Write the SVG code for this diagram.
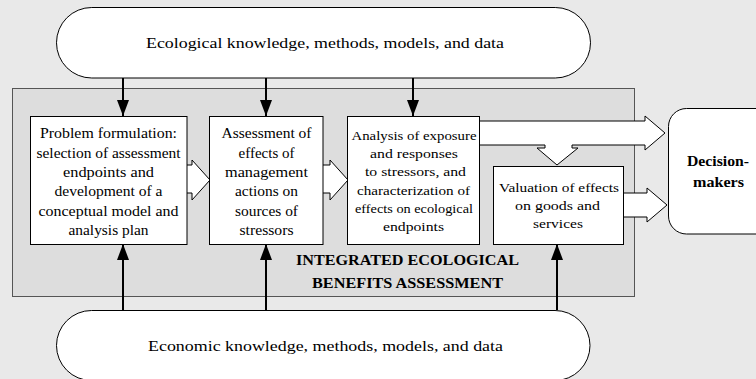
<svg xmlns="http://www.w3.org/2000/svg" width="756" height="379" viewBox="0 0 756 379">
<style>
.t{font-family:"Liberation Serif","Times New Roman",serif;fill:#000;text-anchor:middle}
.p{font-size:15px}
.b1{font-size:14.5px}
.b3{font-size:13.5px}
.bd{font-size:14.5px;font-weight:bold}
.dm{font-size:15.5px;font-weight:bold}
.box{fill:#fff;stroke:#000;stroke-width:1}
.blk{fill:#fff;stroke:#000;stroke-width:1;stroke-linejoin:miter}
.ln{stroke:#000;stroke-width:2;fill:none}
</style>
<defs>
<marker id="ah" markerUnits="userSpaceOnUse" markerWidth="16" markerHeight="12" refX="16" refY="6" orient="auto" viewBox="0 0 16 12">
<path d="M0,0 L16,6 L0,12 Z" fill="#000"/>
</marker>
</defs>
<rect x="0" y="0" width="756" height="379" fill="#e9e9e9"/>

<g id="assessment-frame">
<rect x="12.5" y="88.5" width="622" height="208" fill="#dddddd" stroke="#555" stroke-width="1"/>
<text class="t bd" x="407.5" y="265" textLength="223" lengthAdjust="spacingAndGlyphs">INTEGRATED ECOLOGICAL</text>
<text class="t bd" x="407.5" y="288" textLength="191" lengthAdjust="spacingAndGlyphs">BENEFITS ASSESSMENT</text>
</g>

<g id="ecological-knowledge">
<rect x="56.5" y="7.5" width="534" height="70.5" rx="35.25" ry="35.25" class="box"/>
<text class="t p" x="325" y="48" textLength="358" lengthAdjust="spacingAndGlyphs">Ecological knowledge, methods, models, and data</text>
</g>

<g id="economic-knowledge">
<rect x="56.5" y="310.5" width="533.5" height="70" rx="35" ry="35" class="box"/>
<text class="t p" x="325.5" y="351" textLength="355" lengthAdjust="spacingAndGlyphs">Economic knowledge, methods, models, and data</text>
</g>

<g id="connectors">
<path class="blk" d="M187,165 H192 V160 L210,180 L192,200 V193 H187"/>
<path class="blk" d="M323,165 H330 V160 L348,180 L330,200 V193 H323"/>
<path class="blk" d="M480,121 H645 V116 L665,133 L645,150 V145 H572 V148 H578 L557,165 L537,148 H545 V145 H480"/>
<path class="blk" d="M623,193 H647 V188 L667,205 L647,222 V217 H623"/>
<line class="ln" x1="123" y1="78" x2="123" y2="116" marker-end="url(#ah)"/>
<line class="ln" x1="266" y1="78" x2="266" y2="116" marker-end="url(#ah)"/>
<line class="ln" x1="413" y1="78" x2="413" y2="116" marker-end="url(#ah)"/>
<line class="ln" x1="123" y1="310" x2="123" y2="244" marker-end="url(#ah)"/>
<line class="ln" x1="266" y1="310" x2="266" y2="244" marker-end="url(#ah)"/>
<line class="ln" x1="557" y1="310" x2="557" y2="244" marker-end="url(#ah)"/>
</g>

<g id="problem-formulation">
<rect x="30.5" y="116.5" width="156.5" height="128" class="box"/>
<text class="t b1" x="108.5" y="138.3" textLength="137" lengthAdjust="spacingAndGlyphs">Problem formulation:</text>
<text class="t b1" x="108.5" y="157.6" textLength="144" lengthAdjust="spacingAndGlyphs">selection of assessment</text>
<text class="t b1" x="108.5" y="176.9" textLength="91" lengthAdjust="spacingAndGlyphs">endpoints and</text>
<text class="t b1" x="108.5" y="196.2" textLength="108" lengthAdjust="spacingAndGlyphs">development of a</text>
<text class="t b1" x="108.5" y="215.5" textLength="140" lengthAdjust="spacingAndGlyphs">conceptual model and</text>
<text class="t b1" x="108.5" y="234.8" textLength="80" lengthAdjust="spacingAndGlyphs">analysis plan</text>
</g>

<g id="effects-assessment">
<rect x="209.5" y="116.5" width="113.5" height="128" class="box"/>
<text class="t b1" x="266.5" y="138.3" textLength="90" lengthAdjust="spacingAndGlyphs">Assessment of</text>
<text class="t b1" x="266.5" y="157.6" textLength="56" lengthAdjust="spacingAndGlyphs">effects of</text>
<text class="t b1" x="266.5" y="176.9" textLength="83" lengthAdjust="spacingAndGlyphs">management</text>
<text class="t b1" x="266.5" y="196.2" textLength="63" lengthAdjust="spacingAndGlyphs">actions on</text>
<text class="t b1" x="266.5" y="215.5" textLength="63" lengthAdjust="spacingAndGlyphs">sources of</text>
<text class="t b1" x="266.5" y="234.8" textLength="54" lengthAdjust="spacingAndGlyphs">stressors</text>
</g>

<g id="exposure-analysis">
<rect x="347.5" y="116.5" width="132" height="128" class="box"/>
<text class="t b3" x="414" y="140.3" textLength="125" lengthAdjust="spacingAndGlyphs">Analysis of exposure</text>
<text class="t b3" x="414" y="158.3" textLength="88" lengthAdjust="spacingAndGlyphs">and  responses</text>
<text class="t b3" x="415.5" y="176.3" textLength="101" lengthAdjust="spacingAndGlyphs">to stressors, and</text>
<text class="t b3" x="413.5" y="194.5" textLength="113" lengthAdjust="spacingAndGlyphs">characterization of</text>
<text class="t b3" x="414" y="212.6" textLength="118" lengthAdjust="spacingAndGlyphs">effects on ecological</text>
<text class="t b3" x="413.5" y="230.5" textLength="61" lengthAdjust="spacingAndGlyphs">endpoints</text>
</g>

<g id="valuation">
<rect x="493.5" y="166.5" width="130" height="78" class="box"/>
<text class="t b3" x="559" y="191.5" textLength="120" lengthAdjust="spacingAndGlyphs">Valuation of effects</text>
<text class="t b3" x="557.5" y="210" textLength="85" lengthAdjust="spacingAndGlyphs">on goods and</text>
<text class="t b3" x="558" y="228" textLength="50" lengthAdjust="spacingAndGlyphs">services</text>
</g>

<g id="decision-makers">
<rect x="668.5" y="108.5" width="110" height="125.5" rx="18" ry="18" class="box"/>
<text class="t dm" x="718" y="166" textLength="62" lengthAdjust="spacingAndGlyphs">Decision-</text>
<text class="t dm" x="718.5" y="187" textLength="51" lengthAdjust="spacingAndGlyphs">makers</text>
</g>
</svg>
